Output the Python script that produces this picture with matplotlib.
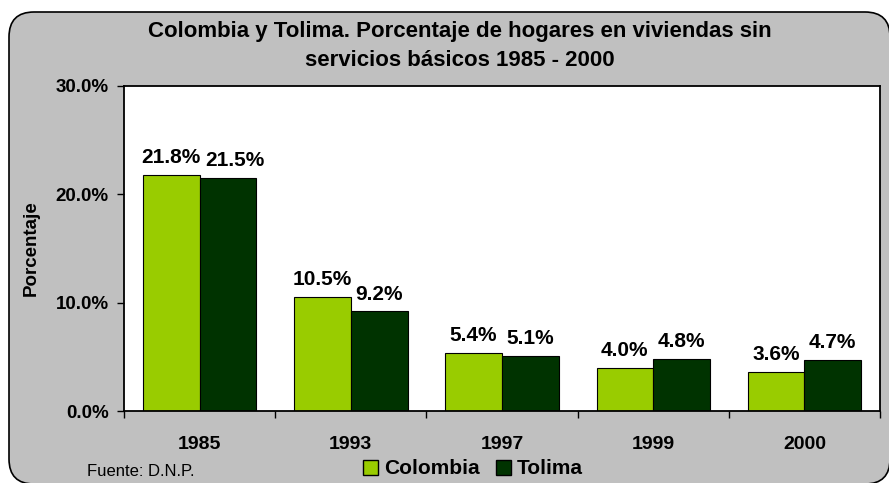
import matplotlib
matplotlib.use("Agg")
import matplotlib.pyplot as plt
import numpy as np
from matplotlib.patches import FancyBboxPatch, Patch

plt.rcParams['font.family'] = ['Liberation Sans', 'DejaVu Sans']

years = ['1985', '1993', '1997', '1999', '2000']
colombia = [21.8, 10.5, 5.4, 4.0, 3.6]
tolima = [21.5, 9.2, 5.1, 4.8, 4.7]
yticks = [0, 10, 20, 30]

W, H = 889, 483
fig = plt.figure(figsize=(W / 100, H / 100), dpi=100)
fig.patch.set_facecolor('white')

# gray rounded panel behind the chart (in inches)
panel = FancyBboxPatch((0.09, -0.01), 8.81, 4.72,
                       boxstyle="round,pad=0,rounding_size=0.25",
                       transform=fig.dpi_scale_trans, facecolor='#C0C0C0',
                       edgecolor='black', linewidth=1.2, zorder=-1)
fig.patches.append(panel)

ax = fig.add_axes([124 / W, 1 - 411 / H, (880 - 124) / W, (411 - 86) / H])
ax.set_facecolor('white')

x = np.arange(len(years))
w = 0.375
b1 = ax.bar(x - w / 2, colombia, w, color='#99CC00', edgecolor='black', linewidth=0.8)
b2 = ax.bar(x + w / 2, tolima, w, color='#003300', edgecolor='black', linewidth=0.8)

for k, (bars, vals) in enumerate([(b1, colombia), (b2, tolima)]):
    for i, (r, v) in enumerate(zip(bars, vals)):
        # two wide labels at the same height would touch, nudge the second one
        dx = 5 if (k == 1 and v >= 10 and colombia[i] >= 10 and abs(colombia[i] - v) < 1) else 0
        ax.annotate(f'{v:.1f}%', (r.get_x() + r.get_width() / 2, v),
                    xytext=(dx, 8.5), textcoords='offset points',
                    ha='center', va='baseline', fontsize=15, fontweight='bold')

ax.set_xlim(-0.5, len(years) - 0.5)
ax.set_ylim(0, 30)
ax.set_yticks(yticks)
ax.set_yticklabels([f'{t:.1f}%' for t in yticks], fontsize=13.5, fontweight='bold')
ax.set_xticks(x)
ax.set_xticklabels(years, fontsize=14, fontweight='bold')
ax.set_xticks(np.arange(len(years) + 1) - 0.5, minor=True)
ax.tick_params(axis='x', which='major', length=0, pad=18)
ax.tick_params(axis='x', which='minor', length=5, width=1)
ax.tick_params(axis='y', length=5, width=1, pad=6)
for s in ax.spines.values():
    s.set_linewidth(1.3)

ax.set_ylabel('Porcentaje', fontsize=13.5, fontweight='bold')
ax.yaxis.set_label_coords(-0.112, 0.5)

fig.text(460 / W, 1 - 31 / H, 'Colombia y Tolima. Porcentaje de hogares en viviendas sin',
         ha='center', va='center', fontsize=16, fontweight='bold')
fig.text(460 / W, 1 - 61 / H, 'servicios básicos 1985 - 2000',
         ha='center', va='center', fontsize=16, fontweight='bold')

fig.text(87 / W, 1 - 471 / H, 'Fuente: D.N.P.', ha='left', va='center', fontsize=12)

handles = [Patch(facecolor='#99CC00', edgecolor='black', label='Colombia'),
           Patch(facecolor='#003300', edgecolor='black', label='Tolima')]
fig.legend(handles=handles, loc='center', bbox_to_anchor=(473 / W, 1 - 469 / H),
           ncol=2, frameon=False, prop={'size': 15, 'weight': 'bold'},
           handlelength=0.7, handleheight=0.7, handletextpad=0.3, columnspacing=0.8,
           borderpad=0)

fig.savefig('out.png', dpi=100)
